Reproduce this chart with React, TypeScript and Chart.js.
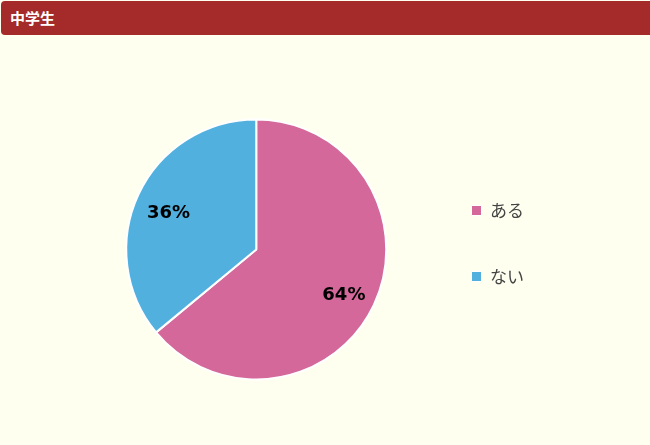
import React, { useEffect, useRef } from "react";
import { Chart, registerables } from "chart.js";

Chart.register(...registerables);

const titleText = "中学生";
const categories = ["ある", "ない"];
const values = [64, 36];
const colors = ["#D4689A", "#52B0DF"];

const pctLabelPlugin = {
  id: "pctLabels",
  afterDatasetsDraw(chart: any) {
    const ctx = chart.ctx;
    const meta = chart.getDatasetMeta(0);
    const data = chart.data.datasets[0].data as number[];
    const total = data.reduce((a, b) => a + b, 0);
    ctx.save();
    ctx.font = "bold 18px 'DejaVu Sans', sans-serif";
    ctx.fillStyle = "#000";
    ctx.textAlign = "center";
    ctx.textBaseline = "middle";
    meta.data.forEach((arc: any, i: number) => {
      const { x, y, startAngle, endAngle, outerRadius } = arc.getProps(
        ["x", "y", "startAngle", "endAngle", "outerRadius"],
        true
      );
      const mid = (startAngle + endAngle) / 2;
      const r = outerRadius * 0.745;
      const label = Math.round((data[i] / total) * 100) + "%";
      ctx.fillText(label, x + Math.cos(mid) * r, y + Math.sin(mid) * r + 5);
    });
    ctx.restore();
  },
};

const legendShiftPlugin = {
  id: "legendShift",
  afterLayout(chart: any) {
    if (chart.legend) {
      chart.legend.top -= 6;
      chart.legend.bottom -= 6;
    }
  },
};

export default function App() {
  const ref = useRef<HTMLCanvasElement | null>(null);

  useEffect(() => {
    if (!ref.current) return;
    const defaultGen = (Chart as any).overrides.pie.plugins.legend.labels.generateLabels;
    const chart = new Chart(ref.current, {
      type: "pie",
      data: {
        labels: categories,
        datasets: [
          {
            data: values,
            backgroundColor: colors,
            borderColor: "#ffffff",
            borderWidth: 2,
          },
        ],
      },
      options: {
        responsive: false,
        animation: false,
        layout: { padding: { left: 90, right: 116, top: 82.5, bottom: 64.5 } },
        plugins: {
          tooltip: { enabled: false },
          legend: {
            position: "right",
            labels: {
              boxWidth: 10,
              boxHeight: 10,
              padding: 49,
              color: "#444",
              font: { size: 17, family: "'Noto Sans CJK JP', sans-serif" },
              generateLabels: (c: any) =>
                defaultGen(c).map((l: any) => ({ ...l, lineWidth: 1 })),
            },
          },
        },
      },
      plugins: [pctLabelPlugin, legendShiftPlugin],
    });
    return () => chart.destroy();
  }, []);

  return (
    <div
      style={{
        position: "fixed",
        left: 0,
        top: 0,
        width: 650,
        height: 445,
        background: "#FFFFF0",
        overflow: "hidden",
      }}
    >
      <div
        style={{
          position: "absolute",
          left: 1,
          top: 1,
          width: 649,
          height: 34,
          background: "#A52A2A",
          borderRadius: "4px 0 0 4px",
          color: "#fff",
          fontFamily: "'Noto Sans CJK JP', sans-serif",
          fontWeight: "bold",
          fontSize: 15,
          lineHeight: "34px",
          paddingLeft: 9,
          boxSizing: "border-box",
        }}
      >
        {titleText}
      </div>
      <canvas
        ref={ref}
        width={650}
        height={409}
        style={{ position: "absolute", left: 0, top: 36, width: 650, height: 409 }}
      />
    </div>
  );
}
